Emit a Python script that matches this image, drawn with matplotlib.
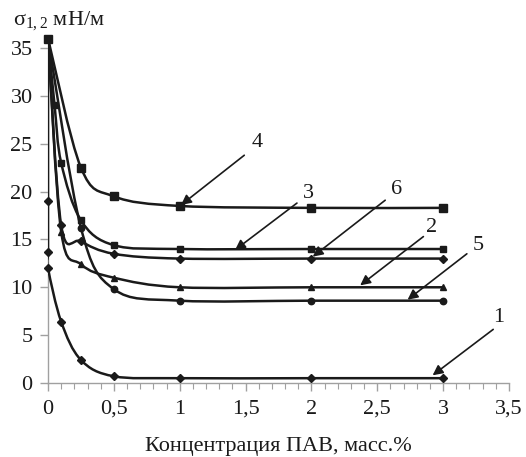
import matplotlib
matplotlib.use("Agg")
import matplotlib.pyplot as plt
import numpy as np
from matplotlib.path import Path
from matplotlib.patches import PathPatch

plt.rcParams['font.family'] = ['Liberation Serif', 'DejaVu Serif']
plt.rcParams['mathtext.fontset'] = 'custom'
plt.rcParams['mathtext.rm'] = 'Liberation Serif'
plt.rcParams['mathtext.it'] = 'Liberation Serif:italic'

# concentration (mass %) and interfacial tension (mN/m)
x1 = [0, 0, 0, 0, 0.1, 0.25, 0.5, 1, 2, 3]
y1 = [36, 19, 13.7, 12, 6.4, 2.4, 0.7, 0.5, 0.5, 0.5]
x2 = [0, 0.1, 0.25, 0.5, 1, 2, 3]
y2 = [36, 15.8, 12.4, 11, 10, 10, 10]
x3 = [0, 0.05, 0.1, 0.25, 0.5, 1, 2, 3]
y3 = [36, 29, 23, 17, 14.4, 14, 14, 14]
x4 = [0, 0.25, 0.5, 1, 2, 3]
y4 = [36, 22.5, 19.5, 18.5, 18.3, 18.3]
x5 = [0, 0.25, 0.5, 1, 2, 3]
y5 = [36, 16.2, 9.8, 8.6, 8.6, 8.6]
x6 = [0, 0.1, 0.25, 0.5, 1, 2, 3]
y6 = [36, 16.5, 14.8, 13.5, 13, 13, 13]

# drawing order: curve 4 last so its square sits on top at x=0
series = [
    (x1, y1, 'D', 3.6),
    (x2, y2, '^', 5),
    (x5, y5, 'o', 4.6),
    (x6, y6, 'D', 3.6),
    (x3, y3, 's', 3.8),
    (x4, y4, 's', 5.4),
]

# curve labels: text, text position, arrow tip
labels = ['4', '3', '6', '2', '5', '1']
label_pos = [(1.59, 25.1), (1.98, 19.8), (2.65, 20.2), (2.91, 16.2), (3.27, 14.4), (3.42, 6.8)]
arrow_from = [(1.49, 23.8), (1.89, 18.8), (2.56, 19.1), (2.85, 15.3), (3.18, 13.5), (3.38, 5.6)]
arrow_tip = [(1.01, 18.6), (1.42, 13.9), (2.01, 13.2), (2.37, 10.2), (2.73, 8.7), (2.92, 0.8)]


def smooth_path(xs, ys):
    # catmull-rom style bezier through the points (like excel smoothing)
    p = np.column_stack([xs, ys]).astype(float)
    n = len(p)
    verts = [p[0]]
    codes = [Path.MOVETO]
    for i in range(n - 1):
        p0 = p[i - 1] if i > 0 else p[i]
        p1 = p[i]
        p2 = p[i + 1]
        p3 = p[i + 2] if i + 2 < n else p[i + 1]
        c1 = p1 + (p2 - p0) / 6.0
        c2 = p2 - (p3 - p1) / 6.0
        verts += [c1, c2, p2]
        codes += [Path.CURVE4] * 3
    return Path(verts, codes)


fig = plt.figure(figsize=(5.26, 4.57), dpi=100)
ax = fig.add_axes([0.0913, 0.162, 0.8764, 0.760])

lc = '#1a1a1a'
for xs, ys, m, ms in series:
    ax.add_patch(PathPatch(smooth_path(xs, ys), fill=False, ec=lc, lw=1.8, zorder=3))
    ax.plot(xs, ys, ls='none', marker=m, ms=ms, color=lc, zorder=4, clip_on=False)

for t, tp, af, at in zip(labels, label_pos, arrow_from, arrow_tip):
    ax.annotate('', xy=at, xytext=af,
                arrowprops=dict(arrowstyle='-|>', color=lc, lw=1.2, mutation_scale=15,
                                shrinkA=0, shrinkB=0))
    ax.text(tp[0], tp[1], t, fontsize=16, ha='center', va='center', color=lc)

ax.set_xlim(0, 3.5)
ax.set_ylim(0, 36.3)
ax.set_xticks(np.arange(0, 3.51, 0.5))
ax.set_xticklabels(['0', '0,5', '1', '1,5', '2', '2,5', '3', '3,5'])
ax.set_xticks(np.arange(0, 3.51, 0.1), minor=True)
ax.set_yticks(np.arange(0, 36, 5))

for s in ['top', 'right']:
    ax.spines[s].set_visible(False)
for s in ['left', 'bottom']:
    ax.spines[s].set_color('#a0a0a0')
    ax.spines[s].set_linewidth(1.0)

ax.tick_params(axis='both', which='major', labelsize=16, colors='#a0a0a0', labelcolor='#1a1a1a',
               length=6, width=1.0)
ax.tick_params(axis='x', which='minor', colors='#a0a0a0', length=4, width=0.8)
ax.tick_params(axis='x', pad=6)
ax.tick_params(axis='y', pad=5)

ax.set_xlabel('Концентрация ПАВ, масс.%', fontsize=16, labelpad=13, color='#1a1a1a')
fig.text(0.025, 0.955, r'$\mathrm{σ_{1,2}}$ мН/м', fontsize=16, ha='left', va='center', color='#1a1a1a')

fig.savefig('out.png', dpi=100)
